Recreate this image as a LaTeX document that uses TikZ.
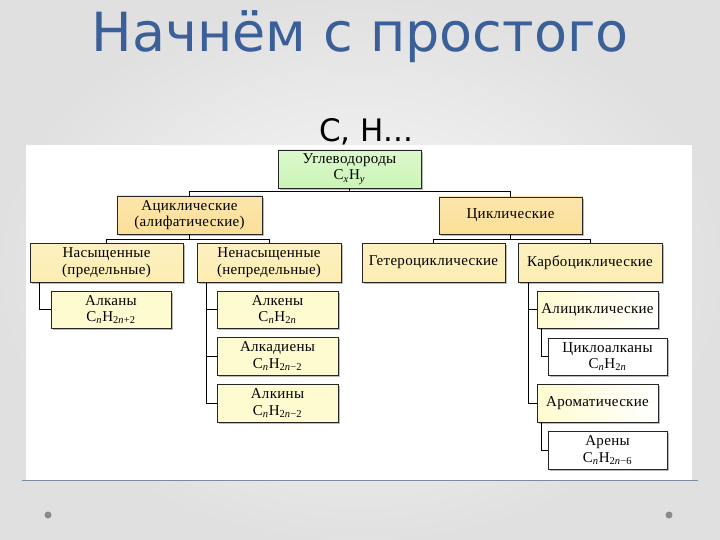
\documentclass[tikz,border=0pt]{standalone}
\usepackage{fontspec}
\setmainfont{Liberation Serif}[LetterSpace=2]
\newfontfamily\titlefont{DejaVu Sans}
\usetikzlibrary{shadows}
\definecolor{titleblue}{HTML}{3A5F99}
\definecolor{lvA}{HTML}{CCF5B6}
\definecolor{lvB}{HTML}{FBDF98}
\definecolor{lvC}{HTML}{FDEDB2}
\definecolor{lvD}{HTML}{FFFBD0}
\definecolor{rulecol}{HTML}{7D8C9C}
\definecolor{dotcol}{HTML}{8A8A8A}
\tikzset{
  box/.style={draw=black!85, line width=0.9pt, inner sep=0pt, align=center,
    font=\fontsize{15}{16.5}\selectfont,
    drop shadow={shadow xshift=2pt, shadow yshift=-2pt, fill=black!45, opacity=0.6}},
  boxA/.style={box, top color=lvA!70!white, bottom color=lvA},
  boxB/.style={box, top color=lvB!80!white, bottom color=lvB},
  boxC/.style={box, top color=lvC!80!white, bottom color=lvC},
  boxD/.style={box, fill=lvD},
  boxE/.style={box, left color=lvD, right color=white},
  boxW/.style={box, fill=white},
  conn/.style={draw=black, line width=0.9pt},
}
\begin{document}
\begin{tikzpicture}[x=1pt,y=-1pt]
\useasboundingbox (0,0) rectangle (720,540);
\shade[inner color=gray!4, outer color=gray!24] (0,0) rectangle (720,540);
\fill[white] (26,145) rectangle (692,480);
\draw[rulecol, line width=1.2pt] (22,480.5) -- (698,480.5);
\fill[dotcol] (48,515) circle (3.5);
\fill[dotcol] (669,515) circle (3.5);

\node[anchor=base, text=titleblue, font=\titlefont\fontsize{54}{60}\selectfont] (title) at (360,52) {Начнём с простого};
\node[anchor=base, text=black, font=\titlefont\fontsize{31}{34}\selectfont] (sub) at (366,142) {C, H...};

\node[boxA, minimum width=143, minimum height=38] (ug) at (349.5,169) {Углеводороды\\C\textsubscript{\textit{x}}H\textsubscript{\textit{y}}};
\node[boxB, minimum width=145, minimum height=38] (acyc) at (189.5,215) {Ациклические\\(алифатические)};
\node[boxB, minimum width=143, minimum height=37] (cyc) at (510.5,215.5) {Циклические};
\node[boxC, minimum width=153, minimum height=39] (nas) at (106.5,262.5) {Насыщенные\\(предельные)};
\node[boxC, minimum width=144, minimum height=39] (nenas) at (269,262.5) {Ненасыщенные\\(непредельные)};
\node[boxC, minimum width=143, minimum height=39] (het) at (433.5,262.5) {Гетероциклические};
\node[boxC, minimum width=144, minimum height=39] (carb) at (590,262.5) {Карбоциклические};
\node[boxD, minimum width=120, minimum height=37] (alkan) at (111,309.5) {Алканы\\C\textsubscript{\textit{n}}H\textsubscript{2\textit{n}+2}};
\node[boxD, minimum width=121, minimum height=37] (alken) at (277.5,309.5) {Алкены\\C\textsubscript{\textit{n}}H\textsubscript{2\textit{n}}};
\node[boxD, minimum width=121, minimum height=38] (alkadien) at (277.5,356) {Алкадиены\\C\textsubscript{\textit{n}}H\textsubscript{2\textit{n}−2}};
\node[boxD, minimum width=121, minimum height=38] (alkin) at (277.5,403) {Алкины\\C\textsubscript{\textit{n}}H\textsubscript{2\textit{n}−2}};
\node[boxE, minimum width=121, minimum height=37] (alicyc) at (597.5,309.5) {Алициклические};
\node[boxW, minimum width=119, minimum height=37] (cycloalk) at (607.5,356.5) {Циклоалканы\\C\textsubscript{\textit{n}}H\textsubscript{2\textit{n}}};
\node[boxE, minimum width=121, minimum height=38] (arom) at (597.5,403) {Ароматические};
\node[boxW, minimum width=119, minimum height=38] (aren) at (607.5,450) {Арены\\C\textsubscript{\textit{n}}H\textsubscript{2\textit{n}−6}};

\draw[conn] (ug.south) -- ++(0,3) -| (acyc.north);
\draw[conn] (ug.south) -- ++(0,3) -| (cyc.north);
\draw[conn] (acyc.south) -- ++(0,5) -| (nas.north);
\draw[conn] (acyc.south) -- ++(0,5) -| (nenas.north);
\draw[conn] (cyc.south) -- ++(0,5) -| (het.north);
\draw[conn] (cyc.south) -- ++(0,5) -| (carb.north);
\draw[conn] ([xshift=10pt]nas.south west) |- (alkan.west);
\coordinate (nv) at ([xshift=10pt]nenas.south west);
\draw[conn] (nv) |- (alkin.west);
\draw[conn] (nv |- alken.west) -- (alken.west);
\draw[conn] (nv |- alkadien.west) -- (alkadien.west);
\coordinate (cv) at ([xshift=11pt]carb.south west);
\draw[conn] (cv) |- (arom.west);
\draw[conn] (cv |- alicyc.west) -- (alicyc.west);
\draw[conn] ([xshift=5pt]alicyc.south west) |- (cycloalk.west);
\draw[conn] ([xshift=5pt]arom.south west) |- (aren.west);
\end{tikzpicture}
\end{document}
